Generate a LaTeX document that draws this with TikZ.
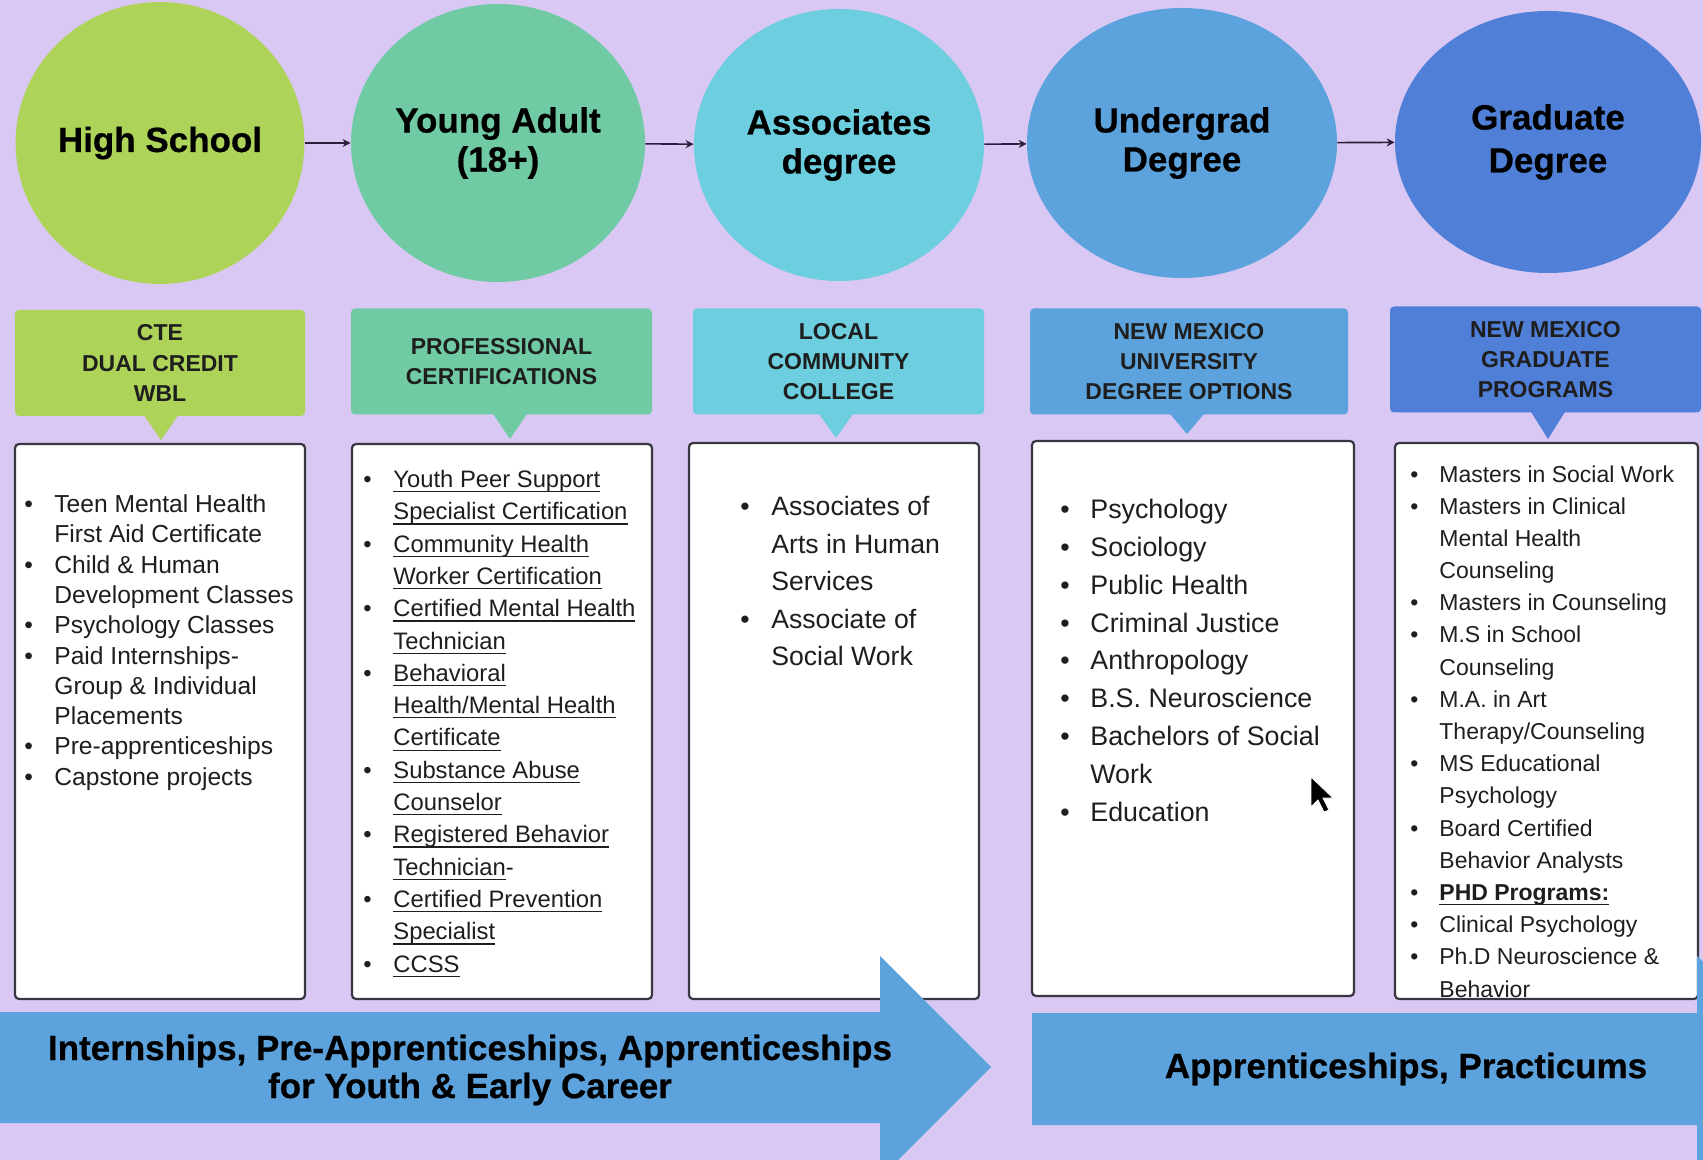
\documentclass[tikz,border=0pt]{standalone}
\usepackage{fontspec}
\setmainfont{Liberation Sans}
\newfontface\heavyface{Liberation Sans Bold}[FakeBold=0.6]
\usetikzlibrary{shapes.geometric,arrows.meta}
\newcommand\myul[1]{\setbox0\hbox{#1}\rlap{\rule[-2.4pt]{\wd0}{0.6pt}}\box0}
\definecolor{bg}{RGB}{217,200,243}
\definecolor{cA}{RGB}{174,211,89}
\definecolor{cB}{RGB}{112,203,165}
\definecolor{cC}{RGB}{108,206,222}
\definecolor{cD}{RGB}{92,163,222}
\definecolor{cE}{RGB}{80,127,216}
\definecolor{band}{RGB}{92,163,222}
\definecolor{boxline}{RGB}{55,55,65}
\definecolor{txt}{RGB}{30,30,30}
\definecolor{arrowdark}{RGB}{45,30,60}
\begin{document}
\begin{tikzpicture}[x=0.5pt,y=-0.5pt,
  stage/.style={ellipse, inner sep=0, text=black, font=\heavyface\fontsize{17.5}{19.5}\selectfont, align=center},
  tag/.style={rectangle, rounded corners=2pt, inner sep=0, text=txt, font=\bfseries\fontsize{11.5}{15.2}\selectfont, align=center, minimum height=53pt},
  listbox/.style={draw=boxline, line width=1.1pt, fill=white, rounded corners=2pt, inner sep=0},
  flow/.style={-{Stealth[length=4pt,width=4pt]}, line width=0.8pt, draw=arrowdark},
  items/.style={anchor=base west, inner sep=0, text=txt},
  bandtext/.style={text=black, font=\heavyface\fontsize{17.5}{19}\selectfont, align=center}
]
\useasboundingbox (0,0) rectangle (1703,1160);
\clip (0,0) rectangle (1703,1160);
\fill[bg] (0,0) rectangle (1703,1160);

% stages
\node[stage, fill=cA, minimum width=144pt, minimum height=141pt] (hs) at (160,143) {High School};
\node[stage, fill=cB, minimum width=147pt, minimum height=139pt] (ya) at (498,143) {Young Adult\\(18+)};
\node[stage, fill=cC, minimum width=145pt, minimum height=136pt] (as) at (839,145) {Associates\\degree};
\node[stage, fill=cD, minimum width=155pt, minimum height=135pt] (ug) at (1182,143) {Undergrad\\Degree};
\node[stage, fill=cE, minimum width=153pt, minimum height=131pt, font=\heavyface\fontsize{17.5}{21.5}\selectfont] (gr) at (1548,142) {Graduate\\Degree};

\draw[flow] (hs) -- (ya);
\draw[flow] (ya) -- (as);
\draw[flow] (as) -- (ug);
\draw[flow] (ug) -- (gr);

% tags with pointers
\node[tag, fill=cA, minimum width=145pt] (t1) at (160,363) {CTE\\DUAL CREDIT\\WBL};
\node[tag, fill=cB, minimum width=150.5pt] (t2) at (501.5,361.5) {PROFESSIONAL\\CERTIFICATIONS};
\node[tag, fill=cC, minimum width=145.5pt] (t3) at (838.5,361.5) {LOCAL\\COMMUNITY\\COLLEGE};
\node[tag, fill=cD, minimum width=159pt] (t4) at (1189,361.5) {NEW MEXICO\\UNIVERSITY\\DEGREE OPTIONS};
\node[tag, fill=cE, minimum width=155.5pt] (t5) at (1545.5,359.5) {NEW MEXICO\\GRADUATE\\PROGRAMS};
\coordinate (p1) at (161,440);
\coordinate (p2) at (510,439);
\coordinate (p3) at (836,438);
\coordinate (p4) at (1187,434);
\coordinate (p5) at (1548,439);
\fill[cA] (p1 |- t1.south) ++(-17,-1) -- (p1) -- ([xshift=8.5pt,yshift=0.5pt]p1 |- t1.south) -- cycle;
\fill[cB] (p2 |- t2.south) ++(-17,-1) -- (p2) -- ([xshift=8.5pt,yshift=0.5pt]p2 |- t2.south) -- cycle;
\fill[cC] (p3 |- t3.south) ++(-17,-1) -- (p3) -- ([xshift=8.5pt,yshift=0.5pt]p3 |- t3.south) -- cycle;
\fill[cD] (p4 |- t4.south) ++(-17,-1) -- (p4) -- ([xshift=8.5pt,yshift=0.5pt]p4 |- t4.south) -- cycle;
\fill[cE] (p5 |- t5.south) ++(-17,-1) -- (p5) -- ([xshift=8.5pt,yshift=0.5pt]p5 |- t5.south) -- cycle;

% list boxes
\node[listbox, minimum width=145pt, minimum height=277.5pt] (b1) at (160,721.5) {};
\node[listbox, minimum width=150pt, minimum height=277.5pt] (b2) at (502,721.5) {};
\node[listbox, minimum width=145pt, minimum height=278pt] (b3) at (834,721) {};
\node[listbox, minimum width=161pt, minimum height=277.5pt] (b4) at (1193,718.5) {};
\node[listbox, minimum width=151.5pt, minimum height=278pt] (b5) at (1546.5,721) {};

\node[items, font=\fontsize{12.3}{15.15}\selectfont] (l1) at (24,512.6) {\begin{tabular}[t]{@{}p{15pt}@{}l@{}}
\textbullet & Teen Mental Health\\
 & First Aid Certificate\\
\textbullet & Child \& Human\\
 & Development Classes\\
\textbullet & Psychology Classes\\
\textbullet & Paid Internships-\\
 & Group \& Individual\\
 & Placements\\
\textbullet & Pre-apprenticeships\\
\textbullet & Capstone projects
\end{tabular}};

\node[items, font=\fontsize{11.9}{16.15}\selectfont] (l2) at (363,487.6) {\begin{tabular}[t]{@{}p{15pt}@{}l@{}}
\textbullet & \myul{Youth Peer Support}\\
 & \myul{Specialist Certification}\\
\textbullet & \myul{Community Health}\\
 & \myul{Worker Certification}\\
\textbullet & \myul{Certified Mental Health}\\
 & \myul{Technician}\\
\textbullet & \myul{Behavioral}\\
 & \myul{Health/Mental Health}\\
 & \myul{Certificate}\\
\textbullet & \myul{Substance Abuse}\\
 & \myul{Counselor}\\
\textbullet & \myul{Registered Behavior}\\
 & \myul{Technician}-\\
\textbullet & \myul{Certified Prevention}\\
 & \myul{Specialist}\\
\textbullet & \myul{CCSS}
\end{tabular}};

\node[items, font=\fontsize{13.3}{18.75}\selectfont] (l3) at (740,515.6) {\begin{tabular}[t]{@{}p{15.5pt}@{}l@{}}
\textbullet & Associates of\\
 & Arts in Human\\
 & Services\\
\textbullet & Associate of\\
 & Social Work
\end{tabular}};

\node[items, font=\fontsize{13.4}{18.9}\selectfont] (l4) at (1060,518.6) {\begin{tabular}[t]{@{}p{15pt}@{}l@{}}
\textbullet & Psychology\\
\textbullet & Sociology\\
\textbullet & Public Health\\
\textbullet & Criminal Justice\\
\textbullet & Anthropology\\
\textbullet & B.S. Neuroscience\\
\textbullet & Bachelors of Social\\
 & Work\\
\textbullet & Education
\end{tabular}};

\node[items, font=\fontsize{11.5}{16.1}\selectfont] (l5) at (1410,482) {\begin{tabular}[t]{@{}p{14.5pt}@{}l@{}}
\textbullet & Masters in Social Work\\
\textbullet & Masters in Clinical\\
 & Mental Health\\
 & Counseling\\
\textbullet & Masters in Counseling\\
\textbullet & M.S in School\\
 & Counseling\\
\textbullet & M.A. in Art\\
 & Therapy/Counseling\\
\textbullet & MS Educational\\
 & Psychology\\
\textbullet & Board Certified\\
 & Behavior Analysts\\
\textbullet & \myul{\textbf{PHD Programs:}}\\
\textbullet & Clinical Psychology\\
\textbullet & Ph.D Neuroscience \&\\
 & Behavior
\end{tabular}};

% mouse cursor
\coordinate (cur) at (1311,777);
\filldraw[black, draw=white, line width=0.4pt] (cur) -- ++(0,30) -- ++(7,-7) -- ++(6,12) -- ++(5,-2) -- ++(-6,-12) -- ++(10,0) -- cycle;

% bottom band arrows
\fill[band] (-5,1012) -- (880,1012) -- (880,956) -- (991,1067) -- (880,1178) -- (880,1123) -- (-5,1123) -- cycle;
\fill[band] (1032,1013) -- (1697,1013) -- (1697,956) -- (1808,1067) -- (1697,1178) -- (1697,1125) -- (1032,1125) -- cycle;
\node[bandtext] (bt1) at (470,1070) {Internships, Pre-Apprenticeships, Apprenticeships\\for Youth \& Early Career};
\node[bandtext] (bt2) at (1406,1069) {Apprenticeships, Practicums};
\end{tikzpicture}
\end{document}
